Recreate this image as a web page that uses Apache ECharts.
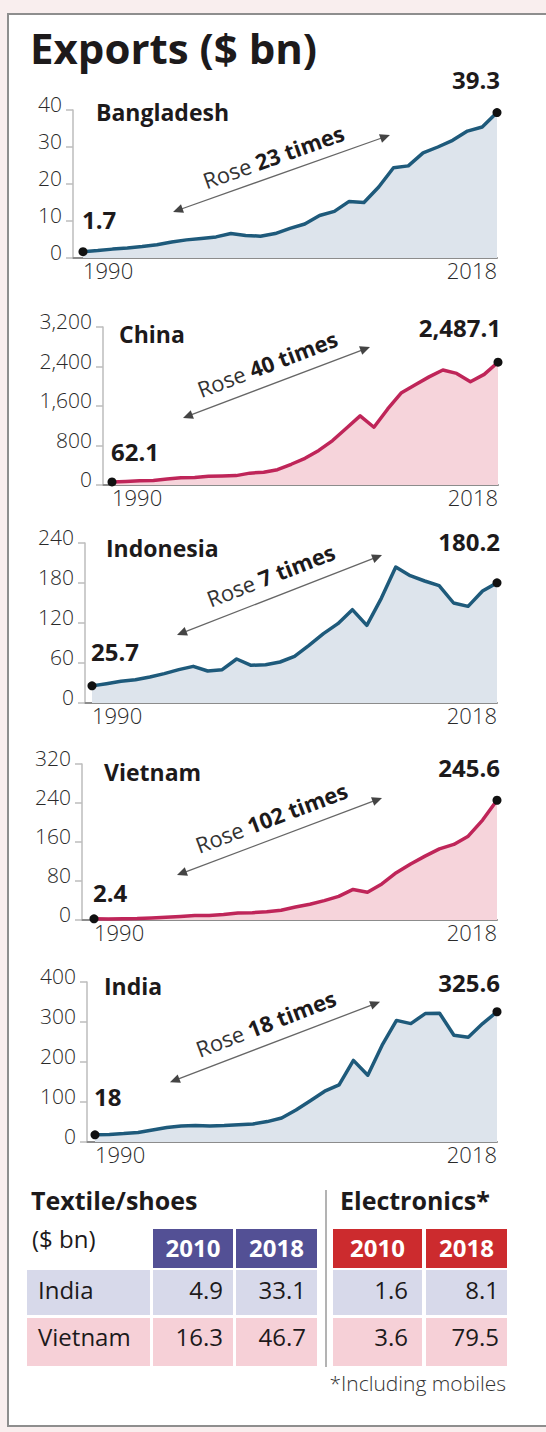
<!DOCTYPE html>
<html>
<head>
<meta charset="utf-8">
<script src="https://cdn.jsdelivr.net/npm/echarts@6/dist/echarts.min.js"></script>
<style>
html,body{margin:0;padding:0;background:#f9eeee;width:546px;height:1432px;overflow:hidden;}
#panel{position:absolute;left:7px;top:13px;width:600px;height:1414px;background:#fff;border:2px solid #8e8e8e;box-sizing:border-box;}
#chart{position:absolute;left:0;top:0;width:546px;height:1432px;}
</style>
</head>
<body>
<div id="panel"></div>
<div id="chart"></div>
<script>
// ---------- DATA ----------
const years = [1990,1991,1992,1993,1994,1995,1996,1997,1998,1999,2000,2001,2002,2003,2004,2005,2006,2007,2008,2009,2010,2011,2012,2013,2014,2015,2016,2017,2018];
const bangladesh = [1.7,2.0,2.4,2.7,3.1,3.6,4.3,4.9,5.3,5.7,6.6,6.1,5.9,6.6,8.0,9.2,11.5,12.6,15.3,15.0,19.2,24.4,24.9,28.4,30.0,31.8,34.3,35.4,39.3];
const china = [62.1,72,85,92,121,149,151,175,180,190,240,260,310,420,540,700,900,1150,1400,1170,1540,1870,2030,2190,2330,2260,2090,2240,2487.1];
const indonesia = [25.7,29,32.5,35,39,44,50,55,48,50,66,56.5,57.5,61.5,70,86.5,104,119,140,116.5,157,204,191,183,176,150,145,168,180.2];
const vietnam = [2.4,2.1,2.6,3.0,4.1,5.4,7.3,9.2,9.4,11.5,14.5,15.0,16.7,20.1,26.5,32.4,39.8,48.6,62.7,57.1,74,97,115,131,146,155,172,205,245.6];
const india = [18,19,21,24,30,36,40,41,40,41,43,45,51,60,80,103,127,143,204,167,242,304,296,321,322,267,262,296,325.6];

const countryNames = ['Bangladesh','China','Indonesia','Vietnam','India'];
const riseFactors = ['23','40','7','102','18'];
const yMaxes = [40,3200,240,320,400];
const yIntervals = [10,800,60,80,100];
const xTickLabels = [1990,2018];
const palettes = ['blue','red','blue','red','blue'];

const tableRows = ['India','Vietnam'];
const tableYears = ['2010','2018'];
const textile2010 = [4.9,16.3];
const textile2018 = [33.1,46.7];
const electronics2010 = [1.6,3.6];
const electronics2018 = [8.1,79.5];

// ---------- LAYOUT / STYLE ----------
const FONT = '"Open Sans","Noto Sans",sans-serif';
const INK = '#1d1a1b';
const COLORS = {
  blue:{line:'#1e5a7b', fill:'#dde4ec'},
  red:{line:'#bf2559', fill:'#f6d4db'}
};
const LAYOUT = [
  {axisX:73, x0:83, x1:497, top:110, zero:258, nameX:96, nameY:112, startLift:32, endLift:33, ar:{cx:281.5,cy:173.5,len:230,ang:19.5,tx:-2,ty:19}},
  {axisX:103,x0:112,x1:498, top:327, zero:485, nameX:119,nameY:334, startLift:30, endLift:35, ar:{cx:276.5,cy:382.5,len:200,ang:20.8,tx:-2,ty:21}},
  {axisX:85, x0:92, x1:497, top:543, zero:703, nameX:106,nameY:547.5,startLift:34, endLift:41, ar:{cx:279.5,cy:595,len:220,ang:21.3,tx:-1,ty:22}},
  {axisX:82, x0:94, x1:497, top:764, zero:920, nameX:104,nameY:772, startLift:26, endLift:33, ar:{cx:279.5,cy:836.5,len:219,ang:20.6,tx:-1,ty:21}},
  {axisX:87, x0:95, x1:497, top:982, zero:1142,nameX:104,nameY:986, startLift:38, endLift:29, ar:{cx:275,cy:1042,len:225,ang:20.9,tx:-2,ty:21}}
];
const seriesList = [bangladesh, china, indonesia, vietnam, india];

const fmt = v => v.toLocaleString('en-US',{maximumFractionDigits:1});

const grids=[], xAxes=[], yAxes=[], series=[], graphics=[];

graphics.push({type:'text', x:30, y:47, style:{text:'Exports ($ bn)', fontSize:42, fontWeight:'bold', fontFamily:FONT, fill:INK, verticalAlign:'middle'}});

LAYOUT.forEach((L,i)=>{
  const vals = seriesList[i];
  const pal = COLORS[palettes[i]];
  grids.push({left:L.axisX, top:L.top, width:L.x1-L.axisX, height:L.zero-L.top});
  const first = xTickLabels[0], last = xTickLabels[1];
  const xmin = first - (L.x0-L.axisX)*(last-first)/(L.x1-L.x0);
  const lab = {margin:1, fontSize:22, color:'#2a2a2a', fontFamily:FONT, fontWeight:300, formatter:v=>String(Math.round(v))};
  xAxes.push({type:'value', gridIndex:i, min:xmin, max:last, position:'bottom', splitLine:{show:false}, axisTick:{show:false},
    axisLine:{show:true, onZero:false, lineStyle:{color:'#8c8c8c', width:2}},
    axisLabel:Object.assign({customValues:[first], align:'left'}, lab)});
  xAxes.push({type:'value', gridIndex:i, min:xmin, max:last, position:'bottom', splitLine:{show:false}, axisTick:{show:false},
    axisLine:{show:false, onZero:false},
    axisLabel:Object.assign({customValues:[last], align:'right'}, lab)});
  yAxes.push({type:'value', gridIndex:i, min:0, max:yMaxes[i], interval:yIntervals[i],
    axisLine:{show:true, lineStyle:{color:'#bdbdbd', width:1.5}},
    axisTick:{show:true, length:7, lineStyle:{color:'#bdbdbd', width:1.5}},
    splitLine:{show:false},
    axisLabel:{margin:11, fontSize:21, color:'#2a2a2a', fontFamily:FONT, fontWeight:300, verticalAlign:'bottom', lineHeight:12, formatter:v=>v.toLocaleString('en-US')}});
  series.push({type:'line', xAxisIndex:2*i, yAxisIndex:i, animation:false, symbol:'none', z:2,
    data: years.map((y,k)=>[y, vals[k]]),
    lineStyle:{color:pal.line, width:3.5, join:'round', cap:'round'},
    areaStyle:{color:pal.fill, opacity:1}});
  series.push({type:'scatter', xAxisIndex:2*i, yAxisIndex:i, animation:false, symbolSize:9, z:5,
    itemStyle:{color:'#111', opacity:1},
    label:{show:true, position:'inside', verticalAlign:'middle', fontSize:24, fontWeight:'bold', color:INK, opacity:1, fontFamily:FONT, textBorderWidth:0,
      formatter:p=>fmt(p.value[1])},
    data:[
      {value:[years[0], vals[0]], label:{align:'left', offset:[-1,-L.startLift]}},
      {value:[years[years.length-1], vals[vals.length-1]], label:{align:'right', offset:[3,-L.endLift]}}
    ]});
  graphics.push({type:'text', x:L.nameX, y:L.nameY, style:{text:countryNames[i], fontSize:23, fontWeight:'bold', fontFamily:FONT, fill:INK, verticalAlign:'middle'}});
  const a = L.ar, h = a.len/2;
  graphics.push({type:'group', x:a.cx, y:a.cy, rotation:a.ang*Math.PI/180, children:[
    {type:'line', shape:{x1:-h+5, y1:0, x2:h-5, y2:0}, style:{stroke:'#666', lineWidth:1.3}},
    {type:'polygon', shape:{points:[[-h,0],[-h+10,-4.5],[-h+10,4.5]]}, style:{fill:'#444'}},
    {type:'polygon', shape:{points:[[h,0],[h-10,-4.5],[h-10,4.5]]}, style:{fill:'#444'}},
    {type:'text', x:a.tx, y:-a.ty, style:{text:'{r|Rose }{b|'+riseFactors[i]+' times}', align:'center', verticalAlign:'middle',
      rich:{r:{fontSize:22, fontFamily:FONT, fontWeight:'normal', fill:'#333', color:'#333'}, b:{fontSize:22, fontFamily:FONT, fontWeight:'bold', fill:INK, color:INK}}}}
  ]});
});

// ---------- TABLE ----------
const T = {
  headTop:1229, headBot:1268,
  rowTops:[1270,1318], rowBots:[1315,1366],
  labelCell:[27,150],
  cols:[[153,233],[236,317],[333,422],[426,507]],
  valueRight:[223,306,408,499],
  rowFill:['#d7d9ea','#f6d0d7'],
  headFill:['#535095','#535095','#cc2b2e','#cc2b2e'],
  textY:[1289,1336]
};
graphics.push({type:'text', x:31, y:1200, style:{text:'Textile/shoes', fontSize:25, fontWeight:'bold', fontFamily:FONT, fill:INK, verticalAlign:'middle'}});
graphics.push({type:'text', x:340, y:1200, style:{text:'Electronics*', fontSize:25, fontWeight:'bold', fontFamily:FONT, fill:INK, verticalAlign:'middle'}});
graphics.push({type:'text', x:32, y:1238, style:{text:'($ bn)', fontSize:24, fontWeight:'normal', fontFamily:FONT, fill:INK, verticalAlign:'middle'}});
graphics.push({type:'line', shape:{x1:326, y1:1190, x2:326, y2:1367}, style:{stroke:'#9a9a9a', lineWidth:1.5}});
const headLabels = [tableYears[0], tableYears[1], tableYears[0], tableYears[1]];
T.cols.forEach((c,j)=>{
  graphics.push({type:'rect', shape:{x:c[0], y:T.headTop, width:c[1]-c[0], height:T.headBot-T.headTop}, style:{fill:T.headFill[j]}});
  graphics.push({type:'text', x:(c[0]+c[1])/2, y:(T.headTop+T.headBot)/2-1, style:{text:headLabels[j], fontSize:24, fontWeight:'bold', fontFamily:FONT, fill:'#fff', align:'center', verticalAlign:'middle'}});
});
const tableCols = [textile2010, textile2018, electronics2010, electronics2018];
tableRows.forEach((name,r)=>{
  const y0 = T.rowTops[r], y1 = T.rowBots[r];
  graphics.push({type:'rect', shape:{x:T.labelCell[0], y:y0, width:T.labelCell[1]-T.labelCell[0], height:y1-y0}, style:{fill:T.rowFill[r]}});
  T.cols.forEach(c=>{
    graphics.push({type:'rect', shape:{x:c[0], y:y0, width:c[1]-c[0], height:y1-y0}, style:{fill:T.rowFill[r]}});
  });
  graphics.push({type:'text', x:38, y:T.textY[r], style:{text:name, fontSize:24, fontFamily:FONT, fill:INK, verticalAlign:'middle'}});
  tableCols.forEach((col,j)=>{
    graphics.push({type:'text', x:T.valueRight[j], y:T.textY[r], style:{text:fmt(col[r]), fontSize:24, fontFamily:FONT, fill:INK, align:'right', verticalAlign:'middle'}});
  });
});
graphics.push({type:'text', x:506, y:1383, style:{text:'*Including mobiles', fontSize:21, fontWeight:300, fontFamily:FONT, fill:'#333', align:'right', verticalAlign:'middle'}});

const chart = echarts.init(document.getElementById('chart'), null, {renderer:'svg', width:546, height:1432});
chart.setOption({
  animation:false,
  backgroundColor:'transparent',
  grid:grids, xAxis:xAxes, yAxis:yAxes, series:series,
  graphic:{elements:graphics}
});
</script>
</body>
</html>
